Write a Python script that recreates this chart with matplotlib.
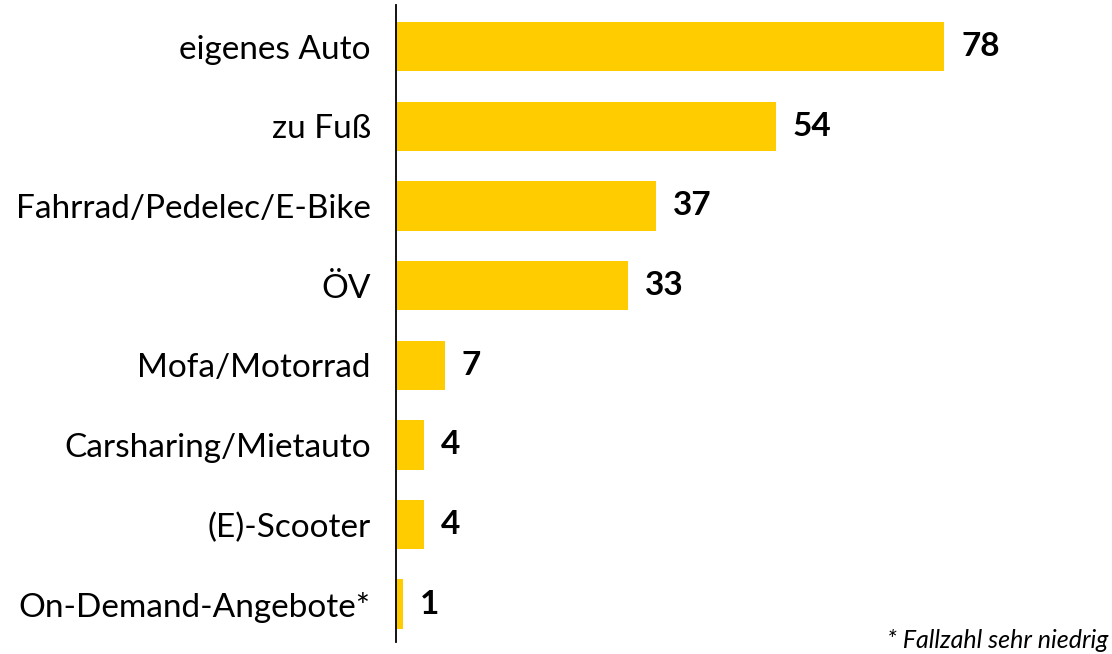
import matplotlib
matplotlib.use("Agg")
import matplotlib.pyplot as plt

# Anteil der Befragten je Verkehrsmittel
categories = ["eigenes Auto", "zu Fuß", "Fahrrad/Pedelec/E-Bike", "ÖV",
              "Mofa/Motorrad", "Carsharing/Mietauto", "(E)-Scooter",
              "On-Demand-Angebote*"]
values = [78, 54, 37, 33, 7, 4, 4, 1]
footnote = "* Fallzahl sehr niedrig"

plt.rcParams['font.family'] = ['Lato', 'DejaVu Sans']

fig = plt.figure(figsize=(11.12, 6.54), dpi=100)
ax = fig.add_axes([0.356, 0.019, 0.644, 0.973])

y = list(range(len(categories)))
ax.barh(y, values, height=0.62, color="#FFCC00")

for yi, v in zip(y, values):
    ax.text(v + 2.4, yi, str(v), va="center", ha="left",
            fontsize=24, fontweight="bold", color="black")

ax.set_yticks(y)
ax.set_yticklabels(categories, fontsize=24)
ax.tick_params(axis="y", length=0, pad=18)
ax.set_xticks([])
ax.set_xlim(0, 101.85)
ax.set_ylim(7.47, -0.52)

for s in ["top", "right", "bottom"]:
    ax.spines[s].set_visible(False)
ax.spines["left"].set_linewidth(1.3)

fig.text(0.997, 0.02, footnote, ha="right", va="center",
         fontsize=18, style="italic")

fig.savefig("out.png", dpi=100)
plt.close(fig)
